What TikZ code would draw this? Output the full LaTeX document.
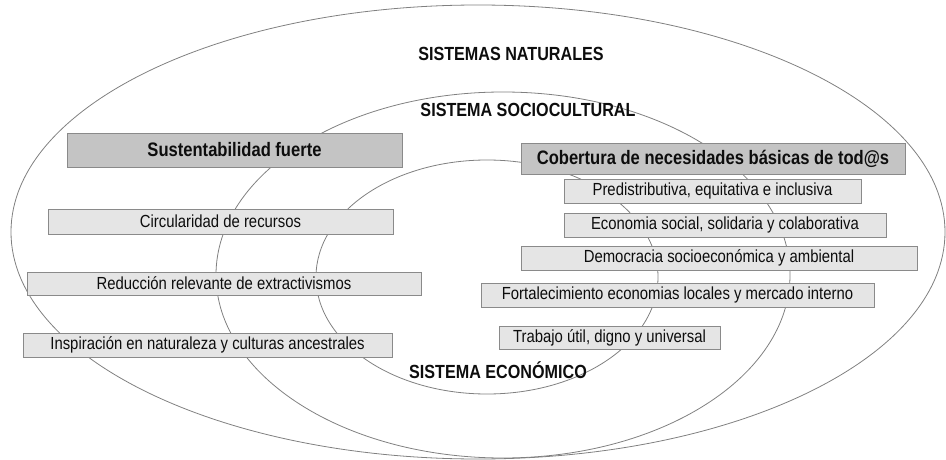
\documentclass[tikz,border=0pt]{standalone}
\usepackage{fontspec}
\usepackage{tikz}
\setmainfont{Liberation Sans}
\newfontfamily\boxfont[FakeStretch=0.85]{Liberation Sans}
\usetikzlibrary{positioning}
\definecolor{lgray}{rgb}{0.90, 0.90, 0.90}
\definecolor{dgray}{rgb}{0.77, 0.77, 0.77}
\definecolor{bgray}{rgb}{0.54, 0.54, 0.54}
\definecolor{egray}{rgb}{0.50, 0.50, 0.50}
\definecolor{tblack}{rgb}{0.05, 0.05, 0.05}
\tikzset{orbit/.style = {draw = egray, line width = 0.8pt}}
\tikzset{item/.style = {draw = bgray, fill = lgray, line width = 0.8pt, inner sep = 0,
    minimum height = 24pt, text = tblack, font = \boxfont\fontsize{17.5}{17.5}\selectfont}}
\tikzset{head/.style = {item, fill = dgray, font = \boxfont\bfseries\fontsize{19.5}{19.5}\selectfont}}
\tikzset{sysname/.style = {text = tblack, inner sep = 0, font = \boxfont\bfseries\fontsize{19}{19}\selectfont}}

\begin{document}
\begin{tikzpicture}[x=1pt, y=-1pt]
      \useasboundingbox (0, 0) rectangle (946, 460);

      \draw [orbit] (478, 232) ellipse (467pt and 227pt);
      \draw [orbit] (503, 275) ellipse (287pt and 183pt);
      \draw [orbit] (487, 277) ellipse (171pt and 117pt);

      \node [sysname] (natu) at (511, 54) {SISTEMAS NATURALES};
      \node [sysname] (soci) at (528, 110) {SISTEMA SOCIOCULTURAL};
      \node [sysname] (econo) at (498, 370) {SISTEMA ECONÓMICO};

      % left column
      \node [head, minimum width = 335pt, minimum height = 34pt] (sust) at (234.5, 150) {Sustentabilidad fuerte};
      \node [item, minimum width = 345pt, minimum height = 25pt] (circ) at (220.5, 221.5) {Circularidad de recursos};
      \node [item, minimum width = 394pt, minimum height = 23pt] (redu) at (224, 283.5) {Reducción relevante de extractivismos};
      \node [item, minimum width = 369pt] (insp) at (207.5, 345) {Inspiración en naturaleza y culturas ancestrales};

      % right column
      \node [head, minimum width = 384pt, minimum height = 31pt] (cobe) at (713, 158.5) {Cobertura de necesidades básicas de tod@s};
      \node [item, minimum width = 297pt] (pred) at (712.5, 191) {Predistributiva, equitativa e inclusiva};
      \node [item, minimum width = 322pt] (econ) at (725, 225) {Economia social, solidaria y colaborativa};
      \node [item, minimum width = 396pt] (demo) at (719, 258) {Democracia socioeconómica y ambiental};
      \node [item, minimum width = 393pt] (fort) at (677.5, 295) {Fortalecimiento economias locales y mercado interno};
      \node [item, minimum width = 221pt, minimum height = 23pt] (trab) at (609.5, 337.5) {Trabajo útil, digno y universal};
    \end{tikzpicture}
\end{document}
